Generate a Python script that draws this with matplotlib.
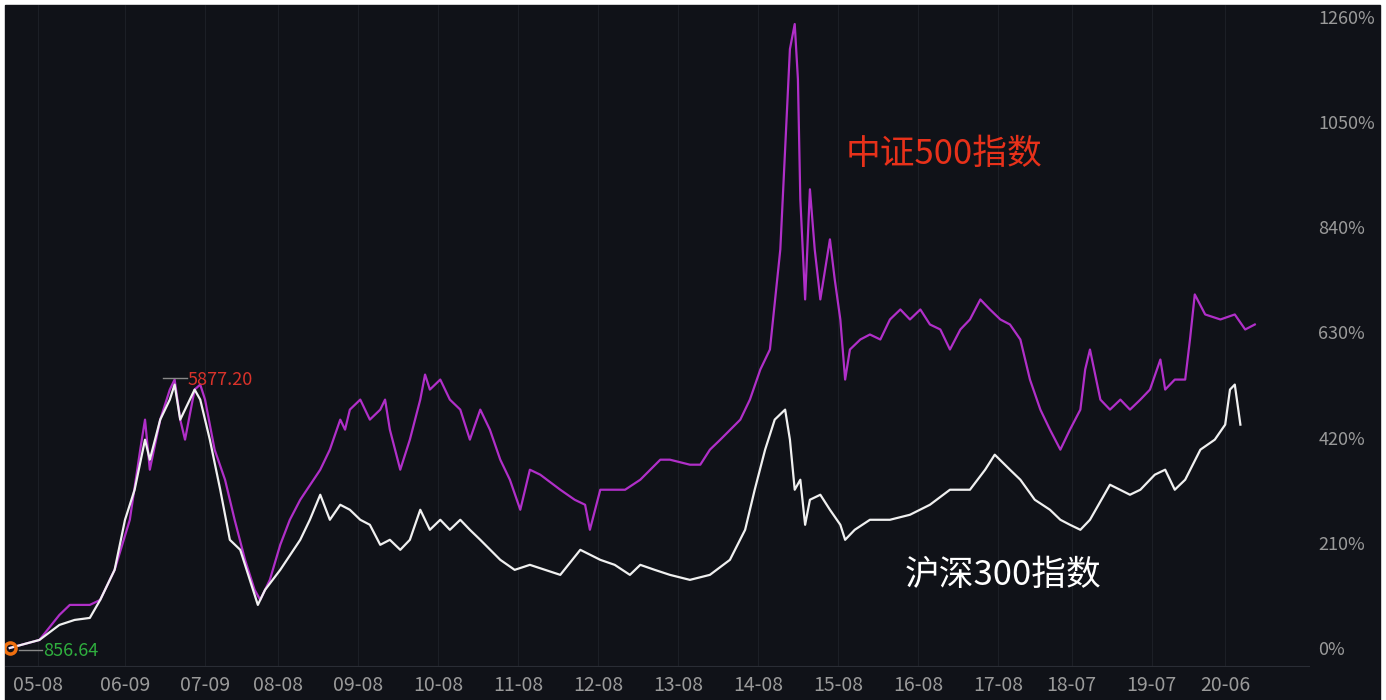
import matplotlib

matplotlib.use("Agg")
import matplotlib.pyplot as plt

plt.rcParams["font.family"] = ["Noto Sans CJK SC", "DejaVu Sans"]

# cumulative return (%), x = decimal year
csi500_t = [2005.23, 2005.6, 2005.85, 2005.98, 2006.23, 2006.36, 2006.54, 2006.73, 2006.86, 2006.92,
            2006.98, 2007.11, 2007.23, 2007.29, 2007.36, 2007.42, 2007.54, 2007.61, 2007.67, 2007.79,
            2007.92, 2008.04, 2008.17, 2008.29, 2008.36, 2008.48, 2008.61, 2008.73, 2008.86, 2009.11,
            2009.17, 2009.23, 2009.36, 2009.42, 2009.48, 2009.61, 2009.73, 2009.86, 2009.92, 2009.98,
            2010.11, 2010.23, 2010.36, 2010.42, 2010.48, 2010.61, 2010.73, 2010.86, 2010.98, 2011.11,
            2011.23, 2011.36, 2011.48, 2011.61, 2011.73, 2011.86, 2012.11, 2012.29, 2012.42, 2012.48,
            2012.61, 2012.79, 2012.92, 2013.11, 2013.36, 2013.48, 2013.73, 2013.86, 2013.98, 2014.11,
            2014.36, 2014.48, 2014.61, 2014.73, 2014.86, 2014.92, 2014.98, 2015.04, 2015.08, 2015.11,
            2015.17, 2015.23, 2015.29, 2015.36, 2015.48, 2015.54, 2015.61, 2015.67, 2015.73, 2015.86,
            2015.98, 2016.11, 2016.23, 2016.36, 2016.48, 2016.61, 2016.73, 2016.86, 2016.98, 2017.11,
            2017.23, 2017.36, 2017.48, 2017.61, 2017.73, 2017.86, 2017.98, 2018.11, 2018.23, 2018.36,
            2018.48, 2018.61, 2018.67, 2018.73, 2018.86, 2018.98, 2019.11, 2019.23, 2019.36, 2019.48,
            2019.61, 2019.67, 2019.79, 2019.92, 2019.98, 2020.04, 2020.17, 2020.36, 2020.54, 2020.67,
            2020.79]
csi500_v = [0, 16, 66, 86, 86, 96, 156, 256, 396, 456,
            356, 456, 516, 536, 456, 416, 516, 526, 496, 396,
            336, 256, 176, 116, 96, 136, 206, 256, 296, 356,
            376, 396, 456, 436, 476, 496, 456, 476, 496, 436,
            356, 416, 496, 546, 516, 536, 496, 476, 416, 476,
            436, 376, 336, 276, 356, 346, 316, 296, 286, 236,
            316, 316, 316, 336, 376, 376, 366, 366, 396, 416,
            456, 496, 556, 596, 796, 996, 1196, 1246, 1136, 896,
            696, 916, 796, 696, 816, 736, 656, 536, 596, 616,
            626, 616, 656, 676, 656, 676, 646, 636, 596, 636,
            656, 696, 676, 656, 646, 616, 536, 476, 436, 396,
            436, 476, 556, 596, 496, 476, 496, 476, 496, 516,
            576, 516, 536, 536, 616, 706, 666, 656, 666, 636,
            646]

hs300_t = [2005.23, 2005.6, 2005.85, 2006.04, 2006.23, 2006.36, 2006.54, 2006.67, 2006.79, 2006.92,
           2006.98, 2007.11, 2007.23, 2007.29, 2007.36, 2007.48, 2007.54, 2007.61, 2007.73, 2007.86,
           2007.98, 2008.11, 2008.23, 2008.33, 2008.42, 2008.61, 2008.86, 2008.98, 2009.11, 2009.23,
           2009.36, 2009.48, 2009.61, 2009.73, 2009.86, 2009.98, 2010.11, 2010.23, 2010.36, 2010.48,
           2010.61, 2010.73, 2010.86, 2010.98, 2011.11, 2011.36, 2011.54, 2011.73, 2011.92, 2012.11,
           2012.36, 2012.61, 2012.79, 2012.98, 2013.11, 2013.29, 2013.48, 2013.73, 2013.98, 2014.23,
           2014.42, 2014.54, 2014.67, 2014.79, 2014.92, 2014.98, 2015.04, 2015.11, 2015.17, 2015.23,
           2015.36, 2015.48, 2015.61, 2015.67, 2015.79, 2015.98, 2016.23, 2016.48, 2016.73, 2016.98,
           2017.23, 2017.42, 2017.54, 2017.73, 2017.86, 2018.04, 2018.23, 2018.36, 2018.48, 2018.61,
           2018.73, 2018.98, 2019.23, 2019.36, 2019.48, 2019.54, 2019.67, 2019.79, 2019.92, 2020.11,
           2020.29, 2020.42, 2020.48, 2020.54, 2020.61]
hs300_v = [0, 16, 46, 56, 60, 96, 156, 256, 316, 416,
           376, 456, 496, 526, 456, 496, 516, 496, 416, 316,
           216, 196, 136, 86, 116, 156, 216, 256, 306, 256,
           286, 276, 256, 246, 206, 216, 196, 216, 276, 236,
           256, 236, 256, 236, 216, 176, 156, 166, 156, 146,
           196, 176, 166, 146, 166, 156, 146, 136, 146, 176,
           236, 316, 396, 456, 476, 416, 316, 336, 246, 296,
           306, 276, 246, 216, 236, 256, 256, 266, 286, 316,
           316, 356, 386, 356, 336, 296, 276, 256, 246, 236,
           256, 326, 306, 316, 336, 346, 356, 316, 336, 396,
           416, 446, 516, 526, 446]

tick_pos = [2005.58, 2006.67, 2007.67, 2008.58, 2009.58, 2010.58, 2011.58, 2012.58,
            2013.58, 2014.58, 2015.58, 2016.58, 2017.58, 2018.5, 2019.5, 2020.42]
tick_labels = ["05-08", "06-09", "07-09", "08-08", "09-08", "10-08", "11-08", "12-08",
               "13-08", "14-08", "15-08", "16-08", "17-08", "18-07", "19-07", "20-06"]
pct_ticks = [0, 210, 420, 630, 840, 1050, 1260]

bg = "#101218"
fig = plt.figure(figsize=(13.86, 7), dpi=100, facecolor="white")
ax = fig.add_axes([5 / 1386, 33 / 700, 1305 / 1386, 662 / 700], facecolor=bg)
fig.patches.append(plt.Rectangle((5 / 1386, 0), 1375 / 1386, 695 / 700, transform=fig.transFigure,
                                 color=bg, zorder=-1))

ax.plot(csi500_t, csi500_v, color="#b02fc8", lw=1.6)
ax.plot(hs300_t, hs300_v, color="#f0f0f0", lw=1.6)

ax.set_xlim(2005.17, 2021.48)
ax.set_ylim(-38, 1284)
ax.set_xticks(tick_pos)
ax.set_xticklabels(tick_labels)
ax.yaxis.tick_right()
ax.set_yticks(pct_ticks)
ax.set_yticklabels([f"{p}%" for p in pct_ticks])
ax.tick_params(colors="#9a9a9a", length=0)
ax.tick_params(axis="y", pad=6, labelsize=13)
ax.tick_params(axis="x", pad=6, labelsize=14)
ax.grid(True, axis="x", color="#1c1f26", lw=0.8)
for s in ax.spines.values():
    s.set_visible(False)
ax.axhline(-38, color="#2a2d35", lw=1.5)

ax.text(2015.68, 985, "中证500指数", color="#e8311a", fontsize=25, va="center")
ax.text(2016.42, 145, "沪深300指数", color="white", fontsize=25, va="center")

ax.plot([2007.15, 2007.45], [540, 540], color="#888888", lw=1)
ax.text(2007.45, 536, "5877.20", color="#d9322a", fontsize=13, va="center")
ax.plot([2005.35, 2005.63], [-4, -4], color="#888888", lw=1)
ax.text(2005.65, -6, "856.64", color="#2fae3e", fontsize=13, va="center")
ax.plot([2005.23], [0], marker="o", ms=8, mfc="none", mec="#f07010", mew=2.5)

fig.savefig("out.png", dpi=100, facecolor="white")
